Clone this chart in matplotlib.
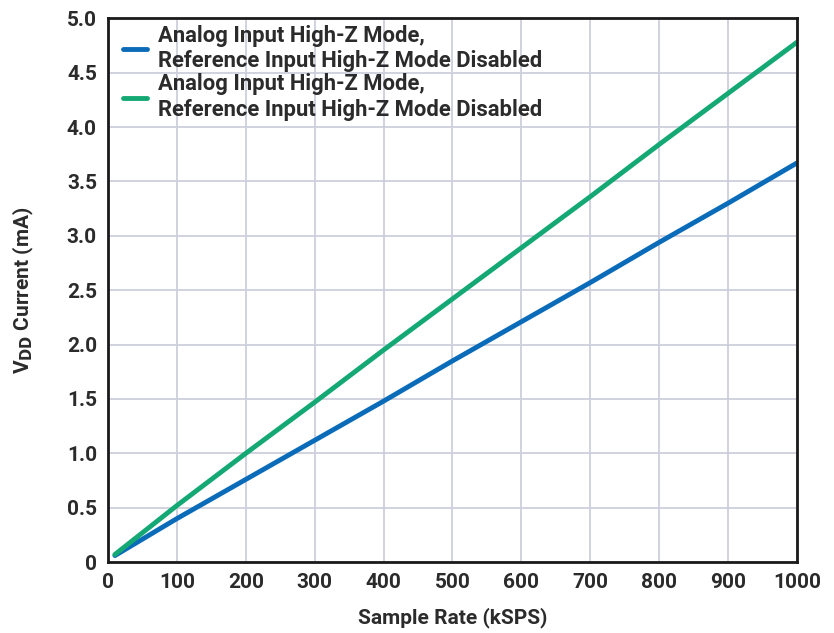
import matplotlib
matplotlib.use('Agg')
import matplotlib.pyplot as plt

# Data
rate = [10, 100, 200, 300, 400, 500, 600, 700, 800, 900, 1000]
blue_ma = [0.06, 0.40, 0.76, 1.12, 1.48, 1.85, 2.21, 2.57, 2.94, 3.30, 3.67]
green_ma = [0.07, 0.52, 1.00, 1.47, 1.95, 2.42, 2.89, 3.36, 3.84, 4.31, 4.78]
labels = ['Analog Input High-Z Mode,\nReference Input High-Z Mode Disabled',
          'Analog Input High-Z Mode,\nReference Input High-Z Mode Disabled']
xticks = list(range(0, 1001, 100))
yticks = [0, 0.5, 1.0, 1.5, 2.0, 2.5, 3.0, 3.5, 4.0, 4.5, 5.0]
ytick_labels = ['0', '0.5', '1.0', '1.5', '2.0', '2.5', '3.0', '3.5', '4.0', '4.5', '5.0']

plt.rcParams['font.family'] = ['Roboto', 'DejaVu Sans']
plt.rcParams['font.weight'] = 'bold'
plt.rcParams['mathtext.default'] = 'regular'

txt = '#2b2b2b'
fig = plt.figure(figsize=(8.34, 6.33), dpi=100)
ax = fig.add_axes([0.1295, 0.112, 0.826, 0.859])

ax.plot(rate, blue_ma, color='#0a6bb8', lw=3.5, label=labels[0], solid_capstyle='round')
ax.plot(rate, green_ma, color='#14a874', lw=3.5, label=labels[1], solid_capstyle='round')

ax.set_xlim(0, 1000)
ax.set_ylim(0, 5.0)
ax.set_xticks(xticks)
ax.set_yticks(yticks)
ax.set_yticklabels(ytick_labels)
ax.grid(True, color='#cdd0dc', lw=1.3)
ax.set_axisbelow(True)
ax.tick_params(length=0, pad=8, labelsize=15, labelcolor=txt)
for lab in ax.get_xticklabels() + ax.get_yticklabels():
    lab.set_fontweight('bold')
for s in ax.spines.values():
    s.set_linewidth(2)
    s.set_color('#1a1a1a')

ax.set_xlabel('Sample Rate (kSPS)', fontsize=15, fontweight='bold', color=txt, labelpad=11)
ax.set_ylabel(r'V$_{\mathrm{DD}}$ Current (mA)', fontsize=15, fontweight='bold', color=txt, labelpad=22)

leg = ax.legend(loc='upper left', bbox_to_anchor=(0.012, 1.0), frameon=False, fontsize=15.8,
                handlelength=1.1, handletextpad=0.5, borderaxespad=0.0, borderpad=0.3,
                labelspacing=0.05)
for t in leg.get_texts():
    t.set_color(txt)
    t.set_fontweight('bold')

fig.savefig('out.png', dpi=100)
